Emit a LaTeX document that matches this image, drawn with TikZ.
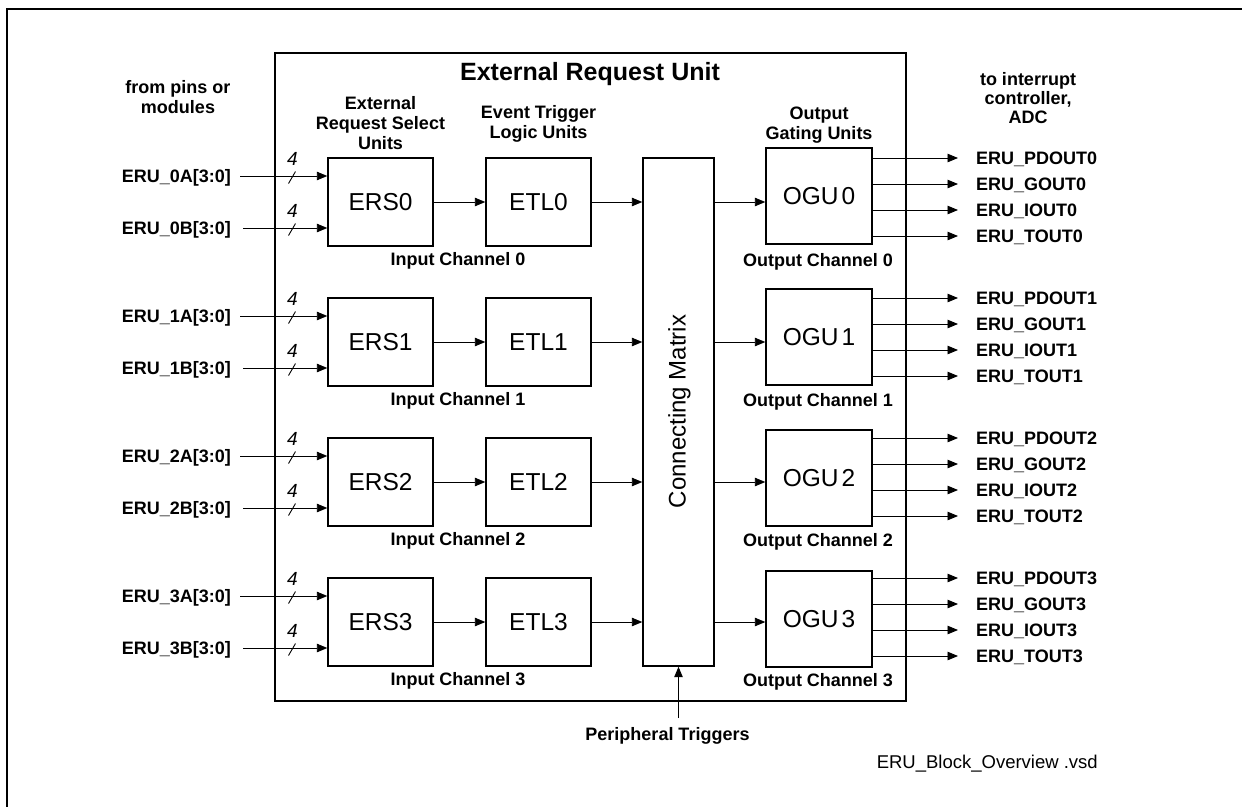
\documentclass[tikz,border=0pt]{standalone}
\usepackage{fontspec}
\setmainfont{Liberation Sans}
\usetikzlibrary{arrows.meta,calc}
\begin{document}
\begin{tikzpicture}[x=1pt,y=-1pt,
  box/.style={draw, line width=1.4pt, inner sep=0pt, font=\fontsize{24.5}{28}\selectfont},
  lab/.style={font=\bfseries\fontsize{18}{20}\selectfont, inner sep=0pt, text height=12.9pt, text depth=0pt},
  mlab/.style={font=\bfseries\fontsize{18}{20}\selectfont, align=center, inner sep=0pt, anchor=north},
  arr/.style={line width=0.9pt, -{Triangle[length=10.5pt,width=8.5pt]}},
  bw/.style={font=\itshape\fontsize{19}{21}\selectfont, inner sep=0pt}
]
\useasboundingbox (0,0) rectangle (1242,806);
% outer frame (top and left edges visible)
\draw[line width=1.5pt] (7,810) -- (7,9) -- (1246,9);
% ERU box
\node[draw, line width=2pt, minimum width=631pt, minimum height=648pt, inner sep=0pt] (eru) at (590.5,377) {};
\node[font=\bfseries\fontsize{25}{28}\selectfont, inner sep=0pt, text height=17.9pt, text depth=0pt] (title) at (590,72) {External Request Unit};
% column headings
\node[mlab] (hpins) at (178,80.5) {from pins or\\modules};
\node[mlab] (hers) at (380.5,96.5) {External\\Request Select\\Units};
\node[mlab] (hetl) at (538.5,105.5) {Event Trigger\\Logic Units};
\node[mlab] (hogu) at (819,106.5) {Output\\Gating Units};
\node[mlab, font=\bfseries\fontsize{18}{19}\selectfont] (hirq) at (1028,72.5) {to interrupt\\controller,\\ADC};
% connecting matrix
\node[draw, line width=1.4pt, minimum width=71pt, minimum height=508pt, inner sep=0pt] (mat) at (678.5,412) {};
\node[rotate=90, font=\fontsize{24}{28}\selectfont, inner sep=0pt] (matl) at (679.5,411.5) {Connecting Matrix};
% channels
\foreach \i in {0,...,3}{
  \node[box, minimum width=105pt, minimum height=88pt] (ers\i) at (380.5,{202+140*\i}) {ERS\i};
  \node[box, minimum width=105pt, minimum height=88pt] (etl\i) at (538.5,{202+140*\i}) {ETL\i};
  \node[box, minimum width=106pt, minimum height=96pt] (ogu\i) at (819,{196+141*\i}) {OGU\kern3pt\i};
  \node[lab] (ic\i) at (458,{259+140*\i}) {Input Channel \i};
  \node[lab] (oc\i) at (818,{260+140*\i}) {Output Channel \i};
  % inputs
  \coordinate (ia\i) at (240,{176+140*\i});
  \coordinate (ib\i) at (243,{228+140*\i});
  \node[lab, anchor=east] (la\i) at ([xshift=-9pt]ia\i) {ERU\_\i A[3:0]};
  \node[lab, anchor=east] (lb\i) at ([xshift=-12pt]ib\i) {ERU\_\i B[3:0]};
  \draw[arr] (ia\i) -- (ia\i -| ers\i.west);
  \draw[arr] (ib\i) -- (ib\i -| ers\i.west);
  \coordinate (sa\i) at (291.5,{176+140*\i});
  \coordinate (sb\i) at (291.5,{228+140*\i});
  \draw[line width=0.9pt] ($(sa\i)+(-3,7.5)$) -- ($(sa\i)+(4,-4.5)$);
  \draw[line width=0.9pt] ($(sb\i)+(-3,7.5)$) -- ($(sb\i)+(4,-4.5)$);
  \node[bw] (na\i) at ($(sa\i)+(1,-17)$) {4};
  \node[bw] (nb\i) at ($(sb\i)+(1,-17)$) {4};
  % internal connections
  \draw[arr] (ers\i) -- (etl\i);
  \draw[arr] (etl\i.east) -- (etl\i.east -| mat.west);
  \draw[arr] (mat.east |- etl\i.east) -- (ogu\i.west |- etl\i.east);
  % outputs
  \foreach \n [count=\k from 0] in {PDOUT,GOUT,IOUT,TOUT}{
    \coordinate (o\i\k) at (958,{158+140*\i+26*\k});
    \draw[arr] (ogu\i.east |- o\i\k) -- (o\i\k);
    \node[lab, anchor=west] (lo\i\k) at ([xshift=18pt]o\i\k) {ERU\_\n\i};
  }
}
% peripheral triggers
\coordinate (ptrig) at (678.5,718);
\draw[arr] (ptrig) -- (ptrig |- mat.south);
\node[lab] (ptl) at (667.5,734) {Peripheral Triggers};
% file name
\node[font=\fontsize{18.5}{20}\selectfont, inner sep=0pt, anchor=east, text height=13.3pt, text depth=0pt] (fname) at (1098,762) {ERU\_Block\_Overview .vsd};
\end{tikzpicture}
\end{document}
